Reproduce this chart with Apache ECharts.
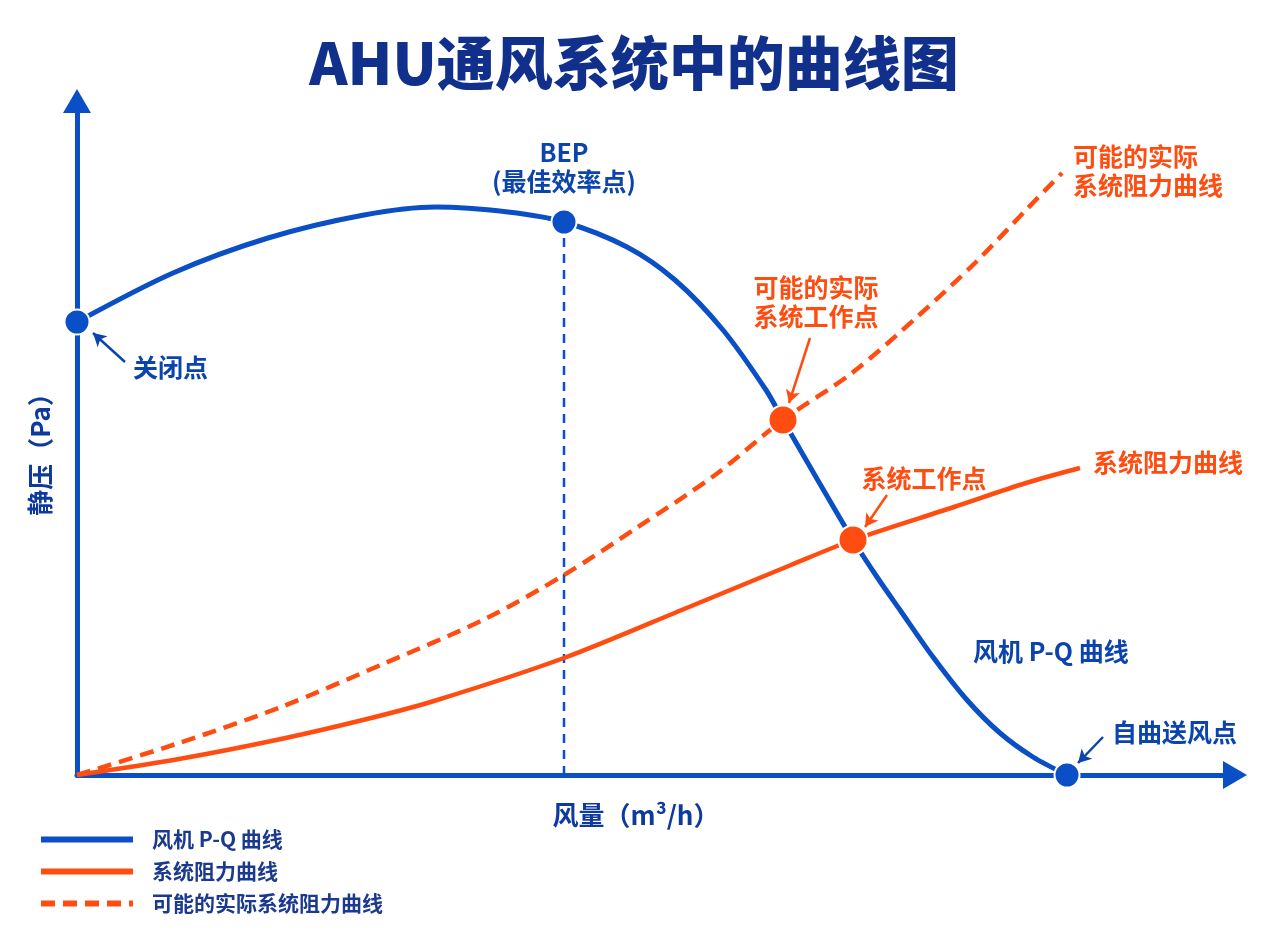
<!DOCTYPE html>
<html>
<head>
<meta charset="utf-8">
<script src="https://cdn.jsdelivr.net/npm/echarts@6/dist/echarts.min.js"></script>
<style>
html,body{margin:0;padding:0;background:#fff;}
#chart{width:1268px;height:951px;}
</style>
</head>
<body>
<div id="chart"></div>
<script>
// ---- data ----
const titleText = 'AHU通风系统中的曲线图';
const xAxisName = '风量（m³/h）';
const yAxisName = '静压（Pa）';
const xRange = [0, 1158];
const yRange = [0, 674];

const seriesNames = ['风机 P-Q 曲线', '系统阻力曲线', '可能的实际系统阻力曲线'];

// fan P-Q curve
const fanFlow     = [0, 96, 191, 287, 359, 431, 487, 550, 598, 646, 689, 706, 743, 776, 800, 823, 856, 890, 923, 956, 990];
const fanPressure = [453, 502, 537, 560, 568, 563, 553, 528, 495, 445, 385, 355, 291, 235, 198, 165, 118, 75, 42, 18, 0];

// system resistance curve
const sysFlow     = [0, 102, 204, 290, 357, 487, 612, 714, 776, 877, 949, 1003];
const sysPressure = [0, 16, 36, 56, 74, 117, 168, 210, 235, 268, 292, 307];

// possible actual system resistance curve
const actFlow     = [0, 102, 204, 306, 408, 487, 561, 638, 706, 775, 840, 898, 949, 985];
const actPressure = [0, 32, 68, 111, 156, 200, 248, 300, 355, 402, 458, 512, 565, 602];

// key points
const fanPointFlow     = [0, 487, 990];      // 关闭点, BEP, 自由送风点
const fanPointPressure = [453, 553, 0];
const opPointFlow      = [706, 776];         // 可能的实际系统工作点, 系统工作点
const opPointPressure  = [355, 235];

// BEP guide
const bepFlow = 487;
const bepPressure = 553;

// annotation texts (data coordinates)
const annTexts = ['关闭点', 'BEP\n(最佳效率点)', '可能的实际\n系统工作点', '系统工作点', '可能的实际\n系统阻力曲线', '系统阻力曲线', '风机 P-Q 曲线', '自曲送风点'];
const annX     = [56, 487, 739, 847, 996, 1016, 896, 1035];
const annY     = [408, 608, 473, 297, 604, 313, 124, 43];
const annAlign = ['left', 'center', 'center', 'center', 'left', 'left', 'left', 'left'];
const annKind  = ['blue', 'blue', 'orange', 'orange', 'orange', 'orange', 'blue', 'blue'];

// annotation arrows
const arrowFrom = [[48, 413], [733, 437], [810, 280], [1026, 38]];
const arrowTo   = [[16, 442], [712, 372], [788, 248], [1001, 12]];
const arrowKind = ['blue', 'orange', 'orange', 'blue'];

// ---- styles ----
const BLUE = '#0a4fc5';
const ORANGE = '#ff4d12';
const NAVY = '#11308c';
const TXT_BLUE = '#0c44ad';
const FONT = '"Noto Sans CJK SC", "Noto Sans", sans-serif';

const zip = (a, b) => a.map((v, i) => [v, b[i]]);

const annData = annTexts.map((t, i) => ({
  value: [annX[i], annY[i]],
  name: t,
  label: {
    align: annAlign[i],
    color: annKind[i] === 'blue' ? TXT_BLUE : ORANGE
  }
}));

const arrowData = arrowFrom.map((f, i) => [
  { coord: f, lineStyle: { color: arrowKind[i] === 'blue' ? TXT_BLUE : ORANGE } },
  { coord: arrowTo[i] }
]);

const chart = echarts.init(document.getElementById('chart'), null, { renderer: 'canvas' });
chart.setOption({
  animation: false,
  backgroundColor: '#ffffff',
  title: {
    text: titleText,
    left: 'center',
    top: 29,
    textStyle: { fontFamily: FONT, fontSize: 58, fontWeight: 900, color: NAVY }
  },
  grid: { left: 77, right: 33, top: 101, bottom: 176, containLabel: false },
  legend: {
    data: seriesNames,
    orient: 'vertical',
    left: 33,
    top: 824,
    itemWidth: 92,
    itemHeight: 14,
    itemGap: 11,
    lineStyle: { width: 6 },
    itemStyle: { opacity: 0 },
    textStyle: { fontFamily: FONT, fontSize: 21, fontWeight: 'bold', color: '#1b3a8e', padding: [0, 0, 0, 14] },
    selectedMode: false
  },
  xAxis: {
    type: 'value',
    min: xRange[0], max: xRange[1],
    name: xAxisName,
    nameLocation: 'middle',
    nameGap: 27,
    nameTextStyle: { fontFamily: FONT, fontSize: 26, fontWeight: 'bold', color: '#0e3a9e', padding: [0, 40, 0, 0] },
    axisLine: { show: true, symbol: ['none', 'triangle'], symbolSize: [28, 24], lineStyle: { color: BLUE, width: 5 } },
    axisTick: { show: false },
    axisLabel: { show: false },
    splitLine: { show: false }
  },
  yAxis: {
    type: 'value',
    min: yRange[0], max: yRange[1],
    name: yAxisName,
    nameLocation: 'middle',
    nameGap: 24,
    nameRotate: 90,
    nameTextStyle: { fontFamily: FONT, fontSize: 26, fontWeight: 'bold', color: '#0e3a9e', padding: [0, 20, 0, 0] },
    axisLine: { show: true, symbol: ['none', 'triangle'], symbolSize: [28, 24], lineStyle: { color: BLUE, width: 5 } },
    axisTick: { show: false },
    axisLabel: { show: false },
    splitLine: { show: false }
  },
  series: [
    {
      name: 'BEP',
      type: 'line',
      data: [[bepFlow, 0], [bepFlow, bepPressure]],
      symbol: 'none',
      lineStyle: { color: BLUE, width: 2.5, type: [9, 7] },
      z: 2,
      silent: true
    },
    {
      name: seriesNames[2],
      type: 'line',
      data: zip(actFlow, actPressure),
      smooth: 0.3,
      symbol: 'none',
      color: ORANGE,
      lineStyle: { color: ORANGE, width: 4.5, type: [14, 8] },
      z: 3
    },
    {
      name: seriesNames[0],
      type: 'line',
      data: zip(fanFlow, fanPressure),
      smooth: 0.3,
      symbol: 'none',
      color: BLUE,
      lineStyle: { color: BLUE, width: 5 },
      z: 4
    },
    {
      name: seriesNames[1],
      type: 'line',
      data: zip(sysFlow, sysPressure),
      smooth: 0.3,
      symbol: 'none',
      color: ORANGE,
      lineStyle: { color: ORANGE, width: 4.5 },
      z: 5
    },
    {
      name: 'fanPoints',
      type: 'scatter',
      data: zip(fanPointFlow, fanPointPressure),
      symbolSize: 25,
      clip: false,
      itemStyle: { color: BLUE, opacity: 1, borderColor: '#ffffff', borderWidth: 2 },
      z: 10,
      silent: true
    },
    {
      name: 'opPoints',
      type: 'scatter',
      data: zip(opPointFlow, opPointPressure),
      symbolSize: 29,
      clip: false,
      itemStyle: { color: ORANGE, opacity: 1, borderColor: '#ffffff', borderWidth: 2 },
      z: 10,
      silent: true
    },
    {
      name: 'annotations',
      type: 'scatter',
      data: annData,
      symbolSize: 1,
      clip: false,
      itemStyle: { color: 'rgba(0,0,0,0)', opacity: 1 },
      label: {
        show: true,
        position: 'inside',
        formatter: p => p.name,
        fontFamily: FONT,
        fontSize: 25,
        fontWeight: 'bold',
        lineHeight: 29,
        verticalAlign: 'middle'
      },
      markLine: {
        silent: true,
        symbol: ['none', 'arrow'],
        symbolSize: [11, 13],
        label: { show: false },
        lineStyle: { width: 2.5, type: 'solid', opacity: 1 },
        data: arrowData
      },
      z: 11,
      silent: true
    }
  ]
});
</script>
</body>
</html>
